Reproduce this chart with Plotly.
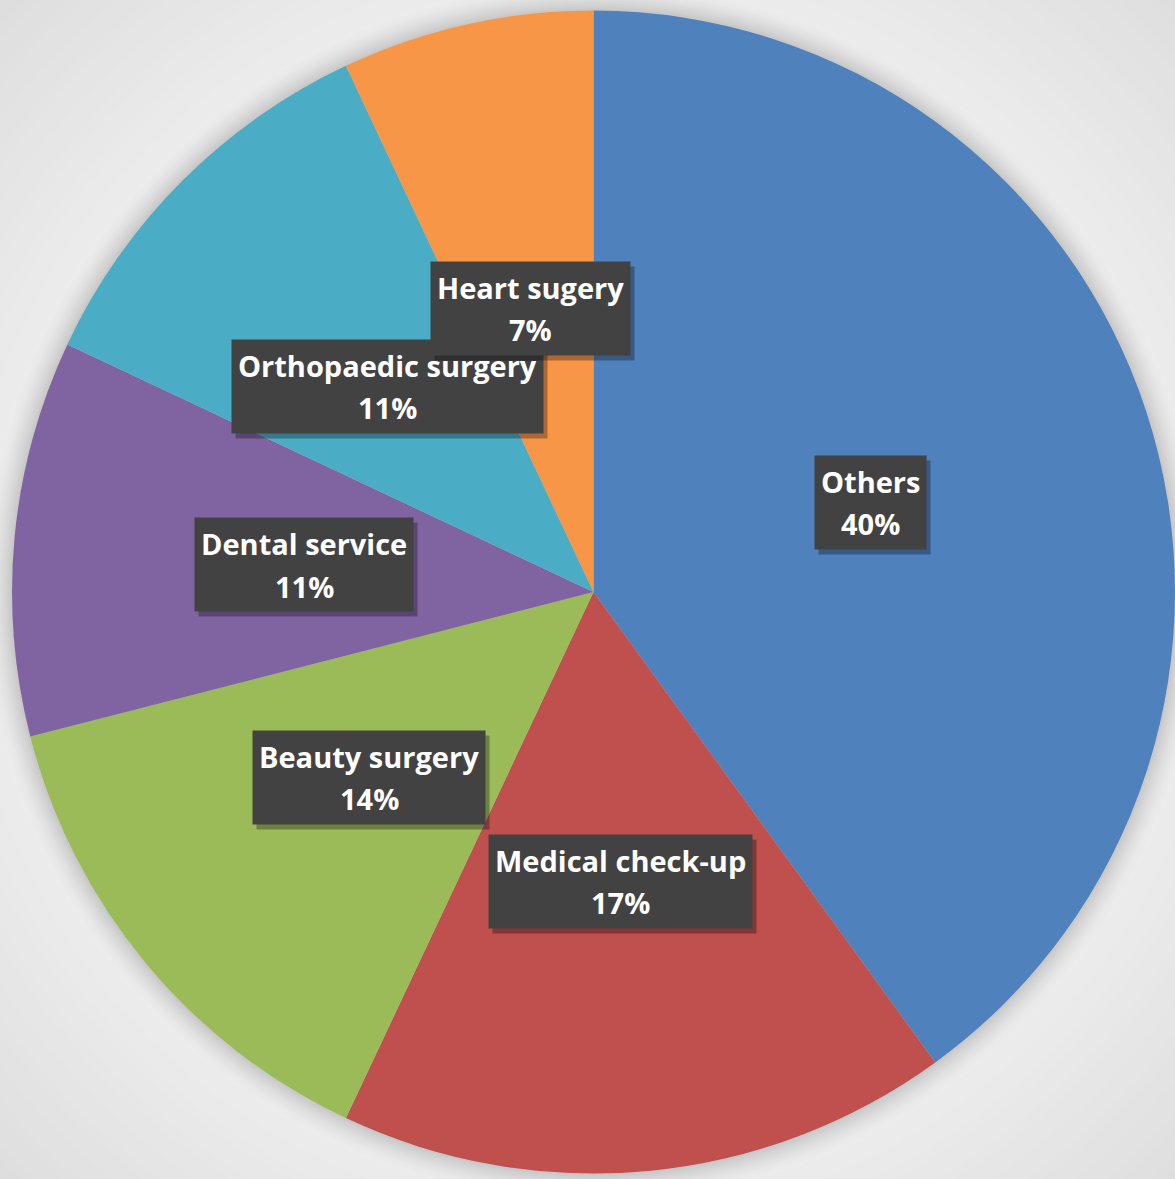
import math
import plotly.graph_objects as go

# Share of treatments
categories = ["Others", "Medical check-up", "Beauty surgery", "Dental service",
              "Orthopaedic surgery", "Heart sugery"]
shares = [40, 17, 14, 11, 11, 7]
colors = ["#4f81bd", "#c0504d", "#9bbb59", "#8064a2", "#4bacc6", "#f79646"]

W, H = 1175, 1179
dom_x = [0.0102, 1.0]
dom_y = [0.0047, 0.9911]

# pie geometry in pixels (plotly centres the pie in its domain)
dw = (dom_x[1] - dom_x[0]) * W
dh = (dom_y[1] - dom_y[0]) * H
R = min(dw, dh) / 2
cx = (dom_x[0] + dom_x[1]) / 2 * W
cy = H - (dom_y[0] + dom_y[1]) / 2 * H


def hexmix(c1, c2, t):
    a = [int(c1[i:i + 2], 16) for i in (1, 3, 5)]
    b = [int(c2[i:i + 2], 16) for i in (1, 3, 5)]
    return "#" + "".join(f"{round(a[k] + (b[k] - a[k]) * t):02x}" for k in range(3))


def circle(r, color):
    return dict(type="circle", xref="paper", yref="paper", layer="below",
                x0=(cx - r) / W, x1=(cx + r) / W,
                y0=1 - (cy + r) / H, y1=1 - (cy - r) / H,
                fillcolor=color, line=dict(width=0))


shapes = []
# soft radial backdrop, light close to the pie and greyer towards the corners
n = 40
for i in range(n):
    t = i / (n - 1)
    r = R + 420 - t * (420 - 28)
    shapes.append(circle(r, hexmix("#d4d4d4", "#ececec", t)))
# drop shadow hugging the rim
m = 14
for i in range(m):
    t = (i + 1) / m
    r = R + 28 - t * 28
    shapes.append(circle(r, hexmix("#ececec", "#c4c4c4", t ** 1.6)))

fig = go.Figure(go.Pie(
    labels=categories, values=shares, sort=False, direction="clockwise",
    rotation=0, marker=dict(colors=colors, line=dict(width=0)),
    textinfo="none", hoverinfo="label+percent", showlegend=False,
    domain=dict(x=dom_x, y=dom_y),
))

# data labels centred half way out along each slice's middle angle
FONT = dict(family="Open Sans", size=29, weight="bold")
PAD = 6
BOX_H = 93
LINE_GAP = 43
total = sum(shares)
annotations = []
cum = 0
for name, v in zip(categories, shares):
    mid = (cum + v / 2) / total * 2 * math.pi
    cum += v
    px = cx + 0.5 * R * math.sin(mid)
    py = cy - 0.5 * R * math.cos(mid)
    pct = f"{round(v / total * 100)}%"
    base = dict(x=px / W, y=1 - py / H, xref="paper", yref="paper",
                xanchor="center", yanchor="middle", showarrow=False)
    box = dict(base, text=name, borderpad=PAD, height=BOX_H - 2 * PAD,
               valign="top")
    # drop shadow behind the label box
    annotations.append(dict(box, xshift=4, yshift=-5, bgcolor="rgba(0,0,0,0.30)",
                            font=dict(FONT, color="rgba(0,0,0,0)")))
    # dark label box carrying the category name on its first line
    annotations.append(dict(box, bgcolor="#424242",
                            font=dict(FONT, color="#ffffff")))
    # percentage on the second line
    annotations.append(dict(base, text=pct, yshift=-LINE_GAP / 2,
                            font=dict(FONT, color="#ffffff")))

fig.update_layout(
    width=W, height=H, margin=dict(l=0, r=0, t=0, b=0),
    paper_bgcolor="#d4d4d4", plot_bgcolor="rgba(0,0,0,0)",
    shapes=shapes, annotations=annotations,
)

fig.write_html("out.html")
